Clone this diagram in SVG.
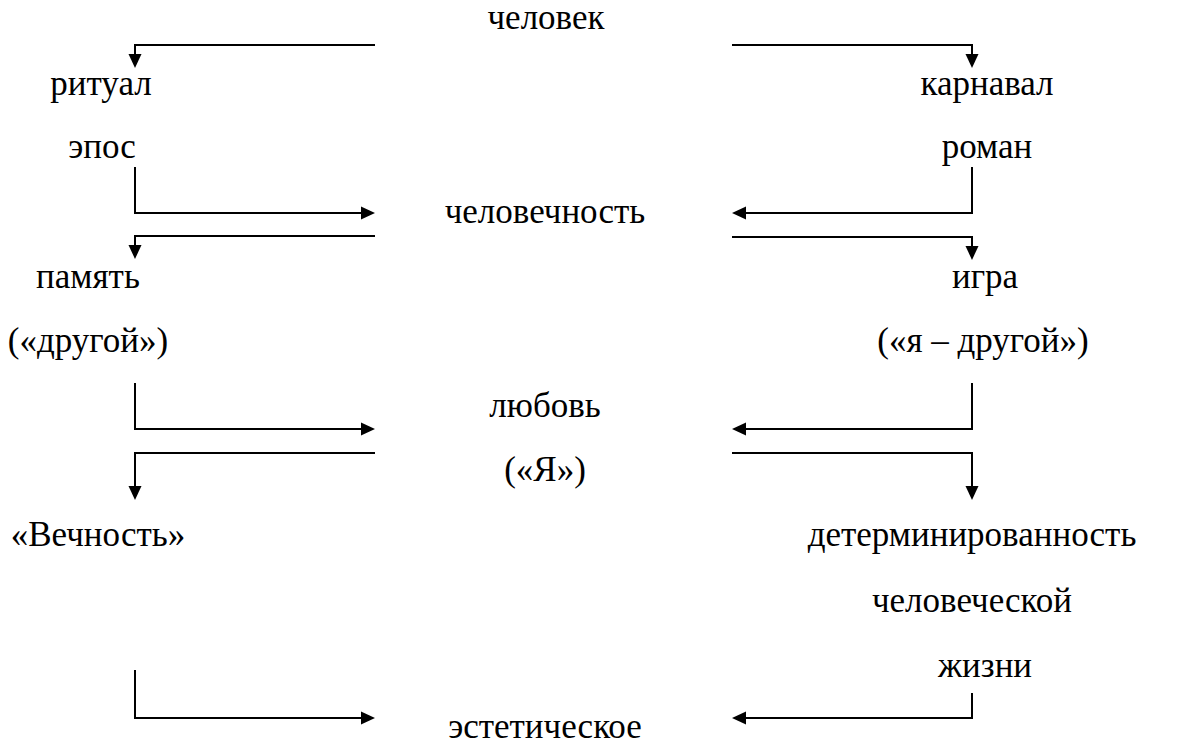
<svg xmlns="http://www.w3.org/2000/svg" width="1179" height="744" viewBox="0 0 1179 744">
<defs>
<style>
.t text{font-family:"Liberation Serif","DejaVu Serif","Times New Roman",Times,serif;font-size:35px;fill:#000;text-anchor:middle}
.c{fill:none;stroke:#000;stroke-width:2;marker-end:url(#ah)}
</style>
<marker id="ah" markerUnits="userSpaceOnUse" markerWidth="14" markerHeight="14" refX="7" refY="6.5" orient="auto" viewBox="0 0 14 13">
<path d="M0,0 L14,6.5 L0,13 z" fill="#000"/>
</marker>
</defs>
<rect width="1179" height="744" fill="#fff"/>
<g class="t">
<g id="n-chelovek"><text x="546" y="29">человек</text></g>
<g id="n-ritual"><text x="101" y="95">ритуал</text></g>
<g id="n-epos"><text x="102" y="158">эпос</text></g>
<g id="n-karnaval"><text x="987" y="95">карнавал</text></g>
<g id="n-roman"><text x="987" y="158">роман</text></g>
<g id="n-chelovechnost"><text x="545" y="223">человечность</text></g>
<g id="n-pamyat"><text x="88" y="288">память</text></g>
<g id="n-drugoy"><text x="88" y="352">(«другой»)</text></g>
<g id="n-igra"><text x="985" y="288">игра</text></g>
<g id="n-ya-drugoy"><text x="983" y="352">(«я – другой»)</text></g>
<g id="n-lyubov"><text x="545" y="417">любовь</text></g>
<g id="n-ya"><text x="545" y="481">(«Я»)</text></g>
<g id="n-vechnost"><text x="98" y="546">«Вечность»</text></g>
<g id="n-determ"><text x="972" y="546">детерминированность</text><text x="972" y="612">человеческой</text><text x="985" y="677">жизни</text></g>
<g id="n-estet"><text x="545" y="738">эстетическое</text></g>
</g>
<g id="connectors">
<path class="c" d="M375,45 H135 V61"/>
<path class="c" d="M732,45 H972 V61"/>
<path class="c" d="M135,167 V213 H368"/>
<path class="c" d="M972,167 V213 H739"/>
<path class="c" d="M375,236 H135 V252"/>
<path class="c" d="M732,237 H972 V253"/>
<path class="c" d="M135,383 V429 H368"/>
<path class="c" d="M972,383 V429 H739"/>
<path class="c" d="M375,453 H135 V493"/>
<path class="c" d="M732,453 H972 V493"/>
<path class="c" d="M135,670 V718 H368"/>
<path class="c" d="M972,693 V718 H739"/>
</g>
</svg>
